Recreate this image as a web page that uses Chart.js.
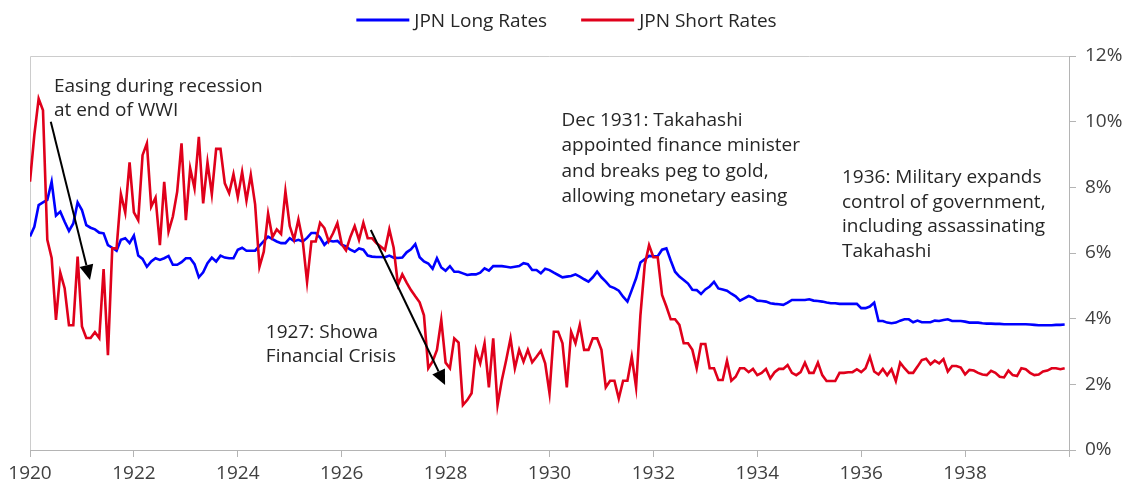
<!DOCTYPE html>
<html>
<head>
<meta charset="utf-8">
<title>JPN Long and Short Rates 1920-1939</title>
<script src="https://cdn.jsdelivr.net/npm/chart.js@4.4.1/dist/chart.umd.min.js"></script>
<style>
  html, body { margin: 0; padding: 0; background: #fff; }
  #wrap { width: 1133px; height: 491px; position: relative; }
</style>
</head>
<body>
<div id="wrap"><canvas id="grafico"></canvas></div>
<script>
const FONT = '"Open Sans", "Noto Sans", sans-serif';
const TEXT = '#262626';
const AXIS = '#b4b4b4';

const START_YEAR = 1920;
const seriesNames = ['JPN Long Rates', 'JPN Short Rates'];
const yearLabels = [1920, 1922, 1924, 1926, 1928, 1930, 1932, 1934, 1936, 1938];
const pctLabels = [0, 2, 4, 6, 8, 10, 12];

// monthly, Jan 1920 .. Dec 1939 (one row per year)
const longRates = [
  6.5, 6.8, 7.46, 7.54, 7.62, 8.17, 7.14, 7.26, 6.95, 6.67, 6.9, 7.54,
  7.31, 6.85, 6.77, 6.72, 6.62, 6.6, 6.24, 6.16, 6.07, 6.4, 6.45, 6.3,
  6.53, 5.92, 5.82, 5.58, 5.74, 5.84, 5.79, 5.84, 5.91, 5.64, 5.64, 5.72,
  5.84, 5.84, 5.66, 5.26, 5.41, 5.69, 5.86, 5.74, 5.92, 5.86, 5.84, 5.84,
  6.1, 6.16, 6.07, 6.07, 6.07, 6.22, 6.36, 6.5, 6.42, 6.35, 6.3, 6.3,
  6.45, 6.36, 6.4, 6.35, 6.46, 6.61, 6.61, 6.47, 6.25, 6.38, 6.35, 6.37,
  6.25, 6.2, 6.1, 6.04, 6.14, 6.1, 5.92, 5.89, 5.88, 5.88, 5.87, 5.92,
  5.86, 5.85, 5.86, 6.02, 6.11, 6.27, 5.87, 5.74, 5.68, 5.52, 5.84, 5.56,
  5.46, 5.6, 5.43, 5.43, 5.38, 5.33, 5.35, 5.35, 5.4, 5.53, 5.46, 5.6,
  5.6, 5.6, 5.58, 5.56, 5.58, 5.6, 5.69, 5.66, 5.48, 5.48, 5.38, 5.52,
  5.48, 5.4, 5.33, 5.26, 5.28, 5.3, 5.35, 5.28, 5.2, 5.13, 5.26, 5.43,
  5.26, 5.13, 4.98, 4.93, 4.85, 4.67, 4.52, 4.87, 5.23, 5.71, 5.81, 5.91,
  5.9, 5.9, 6.1, 6.14, 5.77, 5.43, 5.28, 5.18, 5.07, 4.88, 4.87, 4.75,
  4.89, 4.98, 5.12, 4.92, 4.89, 4.85, 4.76, 4.68, 4.55, 4.62, 4.69, 4.64,
  4.55, 4.54, 4.52, 4.47, 4.45, 4.44, 4.42, 4.49, 4.57, 4.57, 4.57, 4.57,
  4.59, 4.55, 4.54, 4.52, 4.49, 4.47, 4.47, 4.45, 4.45, 4.45, 4.45, 4.45,
  4.32, 4.32, 4.37, 4.49, 3.93, 3.93, 3.88, 3.86, 3.88, 3.94, 3.98, 3.98,
  3.89, 3.94, 3.89, 3.89, 3.89, 3.94, 3.93, 3.96, 3.98, 3.93, 3.93, 3.93,
  3.91, 3.88, 3.88, 3.88, 3.86, 3.85, 3.85, 3.84, 3.84, 3.83, 3.83, 3.83,
  3.83, 3.83, 3.83, 3.82, 3.81, 3.8, 3.8, 3.8, 3.8, 3.81, 3.81, 3.82
];

const shortRates = [
  8.17, 9.6, 10.7, 10.35, 6.4, 5.85, 3.96, 5.4, 4.93, 3.8, 3.8, 5.89,
  3.76, 3.41, 3.41, 3.59, 3.41, 5.51, 2.89, 6.14, 6.14, 7.79, 7.23, 8.76,
  7.24, 7.0, 8.98, 9.34, 7.41, 7.69, 6.24, 8.17, 6.65, 7.11, 7.87, 9.34,
  7.0, 8.58, 7.97, 9.54, 7.51, 8.76, 7.79, 9.17, 9.17, 8.12, 7.82, 8.4,
  7.7, 8.47, 7.6, 8.38, 7.48, 5.58, 6.04, 7.2, 6.48, 6.72, 6.58, 7.88,
  6.82, 6.41, 7.02, 6.37, 5.12, 6.35, 6.35, 6.92, 6.76, 6.35, 6.6, 6.91,
  6.27, 6.08, 6.49, 6.82, 6.4, 6.92, 6.45, 6.45, 6.3, 6.2, 6.09, 6.72,
  6.16, 5.03, 5.35, 5.1, 4.87, 4.68, 4.5, 4.1, 2.49, 2.7, 3.05, 3.96,
  2.66, 2.49, 3.4, 3.27, 1.37, 1.52, 1.73, 3.05, 2.64, 3.25, 1.91, 3.4,
  1.37, 2.13, 2.74, 3.4, 2.49, 3.05, 2.69, 3.05, 2.67, 2.84, 3.02, 2.64,
  1.73, 3.6, 3.6, 3.25, 1.91, 3.6, 3.25, 3.81, 3.05, 3.05, 3.4, 3.4,
  3.05, 1.91, 2.11, 2.11, 1.57, 2.11, 2.11, 2.84, 1.91, 4.1, 5.64, 6.24,
  5.87, 5.87, 4.72, 4.37, 3.98, 3.98, 3.81, 3.25, 3.25, 3.05, 2.49, 3.23,
  3.23, 2.49, 2.49, 2.13, 2.13, 2.72, 2.11, 2.23, 2.49, 2.49, 2.37, 2.47,
  2.28, 2.35, 2.47, 2.18, 2.37, 2.47, 2.47, 2.59, 2.35, 2.28, 2.37, 2.66,
  2.35, 2.35, 2.66, 2.28, 2.1, 2.1, 2.1, 2.35, 2.35, 2.37, 2.37, 2.46,
  2.37, 2.49, 2.84, 2.39, 2.3, 2.47, 2.28, 2.46, 2.1, 2.66, 2.49, 2.35,
  2.35, 2.54, 2.74, 2.78, 2.61, 2.72, 2.64, 2.77, 2.39, 2.56, 2.56, 2.51,
  2.3, 2.44, 2.42, 2.35, 2.3, 2.28, 2.41, 2.35, 2.23, 2.21, 2.42, 2.28,
  2.25, 2.49, 2.46, 2.35, 2.28, 2.3, 2.39, 2.42, 2.49, 2.49, 2.46, 2.49
];

// notes in data units: [year, percent] of the first baseline
const notes = [
  { at: [1920.46, 10.89], gap: 24, lines: ['Easing during recession', 'at end of WWI'] },
  { at: [1924.54, 3.41], gap: 24, lines: ['1927: Showa', 'Financial Crisis'] },
  { at: [1930.23, 9.87], gap: 25.5, lines: ['Dec 1931: Takahashi', 'appointed finance minister', 'and breaks peg to gold,', 'allowing monetary easing'] },
  { at: [1935.63, 8.13], gap: 24.7, lines: ['1936: Military expands', 'control of government,', 'including assassinating', 'Takahashi'] }
];
const arrows = [
  { from: [1920.40, 10.0], to: [1921.155, 5.18] },
  { from: [1926.56, 6.70], to: [1927.99, 1.98] }
];

function toPoints(values) {
  return values.map((v, i) => ({ x: START_YEAR + i / 12, y: v }));
}

const topLegend = {
  id: 'topLegend',
  afterDraw(chart) {
    const ctx = chart.ctx;
    const sets = chart.data.datasets;
    const swatch = 53, gapText = 5, gapItem = 34;
    ctx.save();
    ctx.font = '19px ' + FONT;
    const widths = sets.map(d => swatch + gapText + ctx.measureText(d.label).width);
    const total = widths.reduce((a, b) => a + b, 0) + gapItem * (sets.length - 1);
    let x = (chart.width - total) / 2;
    const y = 20;
    sets.forEach((d, i) => {
      ctx.strokeStyle = d.borderColor;
      ctx.lineWidth = 3;
      ctx.beginPath();
      ctx.moveTo(x, y);
      ctx.lineTo(x + swatch, y);
      ctx.stroke();
      ctx.fillStyle = TEXT;
      ctx.textAlign = 'left';
      ctx.textBaseline = 'alphabetic';
      ctx.fillText(d.label, x + swatch + gapText, y + 7);
      x += widths[i] + gapItem;
    });
    ctx.restore();
  }
};

const plotBox = {
  id: 'plotBox',
  beforeDatasetsDraw(chart) {
    const { ctx, chartArea: a } = chart;
    ctx.save();
    ctx.strokeStyle = '#cccccc';
    ctx.lineWidth = 1;
    ctx.beginPath();
    ctx.moveTo(Math.round(a.left) + 0.5, a.bottom);
    ctx.lineTo(Math.round(a.left) + 0.5, Math.round(a.top) + 0.5);
    ctx.lineTo(a.right, Math.round(a.top) + 0.5);
    ctx.stroke();
    ctx.restore();
  }
};

const callouts = {
  id: 'callouts',
  afterDatasetsDraw(chart) {
    const { ctx, scales: { x, y } } = chart;
    ctx.save();
    ctx.fillStyle = TEXT;
    ctx.font = '19px ' + FONT;
    ctx.textAlign = 'left';
    ctx.textBaseline = 'alphabetic';
    notes.forEach(n => {
      const px = x.getPixelForValue(n.at[0]);
      const py = y.getPixelForValue(n.at[1]);
      n.lines.forEach((t, i) => ctx.fillText(t, px, py + i * n.gap));
    });

    ctx.strokeStyle = '#000';
    ctx.fillStyle = '#000';
    ctx.lineWidth = 2;
    arrows.forEach(a => {
      const x0 = x.getPixelForValue(a.from[0]), y0 = y.getPixelForValue(a.from[1]);
      const x1 = x.getPixelForValue(a.to[0]), y1 = y.getPixelForValue(a.to[1]);
      const ang = Math.atan2(y1 - y0, x1 - x0);
      const len = 15, half = 7;
      const bx = x1 - len * Math.cos(ang), by = y1 - len * Math.sin(ang);
      ctx.beginPath();
      ctx.moveTo(x0, y0);
      ctx.lineTo(bx, by);
      ctx.stroke();
      ctx.beginPath();
      ctx.moveTo(x1, y1);
      ctx.lineTo(bx + half * Math.sin(ang), by - half * Math.cos(ang));
      ctx.lineTo(bx - half * Math.sin(ang), by + half * Math.cos(ang));
      ctx.closePath();
      ctx.fill();
    });
    ctx.restore();
  }
};

Chart.defaults.font.family = FONT;
Chart.defaults.color = '#404040';

new Chart(document.getElementById('grafico'), {
  type: 'line',
  data: {
    datasets: [
      {
        label: seriesNames[0],
        data: toPoints(longRates),
        borderColor: '#0000FF',
        borderWidth: 2.6,
        pointRadius: 0,
        tension: 0,
        order: 1
      },
      {
        label: seriesNames[1],
        data: toPoints(shortRates),
        borderColor: '#E0001B',
        borderWidth: 2.6,
        pointRadius: 0,
        tension: 0,
        order: 0
      }
    ]
  },
  options: {
    responsive: true,
    maintainAspectRatio: false,
    animation: false,
    layout: { padding: { top: 56, left: 30, right: 0, bottom: 0 } },
    plugins: { legend: { display: false }, tooltip: { enabled: false } },
    scales: {
      x: {
        type: 'linear',
        min: START_YEAR,
        max: 1940,
        afterFit: (s) => { s.height = 41; },
        border: { display: true, color: AXIS, width: 1 },
        grid: { drawOnChartArea: false, drawTicks: true, tickLength: 7, color: AXIS },
        ticks: {
          stepSize: 2,
          autoSkip: false,
          maxRotation: 0,
          padding: 5,
          font: { size: 19 },
          color: '#404040',
          callback: (v) => yearLabels.includes(v) ? String(v) : ''
        }
      },
      y: {
        position: 'right',
        min: 0,
        max: 12,
        afterFit: (s) => { s.width = 64; },
        border: { display: true, color: AXIS, width: 1 },
        grid: { drawOnChartArea: false, drawTicks: true, tickLength: 7, color: AXIS },
        afterBuildTicks: (s) => { s.ticks = pctLabels.map(v => ({ value: v })); },
        ticks: {
          padding: 9,
          crossAlign: 'near',
          font: { size: 19 },
          color: '#404040',
          callback: (v) => v + '%'
        }
      }
    }
  },
  plugins: [plotBox, callouts, topLegend]
});
</script>
</body>
</html>
